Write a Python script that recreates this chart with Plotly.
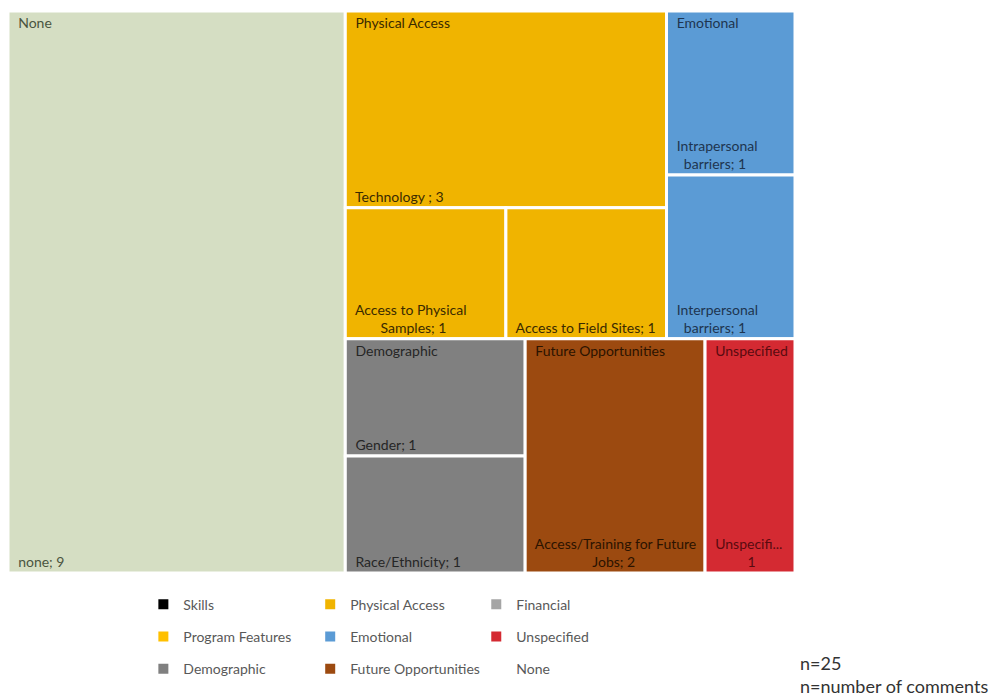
import plotly.graph_objects as go

# ---------------- data ----------------
parent_names = ["None", "Physical Access", "Emotional", "Demographic",
                "Future Opportunities", "Unspecified"]
parent_colors = ["#D5DEC3", "#F0B400", "#5B9BD5", "#808080", "#9C4A10", "#D42A32"]
parent_text_colors = ["#4A5540", "#3A2A00", "#1E3550", "#262626", "#2B1300", "#5A0A10"]

child_labels = ["none", "Technology ", "Access to Physical<br>Samples",
                "Access to Field Sites", "Intrapersonal<br>barriers",
                "Interpersonal<br>barriers", "Gender", "Race/Ethnicity",
                "Access/Training for Future<br>Jobs", "Unspecifi..."]
child_parents = ["None", "Physical Access", "Physical Access", "Physical Access",
                 "Emotional", "Emotional", "Demographic", "Demographic",
                 "Future Opportunities", "Unspecified"]
child_values = [9, 3, 1, 1, 1, 1, 1, 1, 2, 1]
child_separators = ["; ", "; ", "; ", "; ", "; ", "; ", "; ", "; ", "; ", "<br>"]

legend_cols = [["Skills", "Program Features", "Demographic"],
               ["Physical Access", "Emotional", "Future Opportunities"],
               ["Financial", "Unspecified", "None"]]
legend_colors = {"Skills": "#000000", "Program Features": "#FFC000",
                 "Demographic": "#808080", "Physical Access": "#F0B400",
                 "Emotional": "#5B9BD5", "Future Opportunities": "#9C4A10",
                 "Financial": "#A5A5A5", "Unspecified": "#D42A32",
                 "None": "rgba(0,0,0,0)"}

n_total = 25
footnote = ["n=%d" % n_total, "n=number of comments"]

FONT = "Lato"
FS = 14
NB = "\u00a0"


def centered(text):
    """Indent continuation lines so each wrapped line is roughly centred."""
    lines = text.split("<br>")
    out = [NB * 2 + lines[0]]
    for ln in lines[1:]:
        pad = max(0, round((len(lines[0]) - len(ln)) * 6.2 / 2 / 3.7))
        out.append(NB * (2 + pad) + ln)
    return "<br>".join(out)


# ---------------- build hierarchy ----------------
pcolor = dict(zip(parent_names, parent_colors))
ptext = dict(zip(parent_names, parent_text_colors))

ids = ["root"] + ["P:" + p for p in parent_names]
labels = [""] + parent_names
parents = [""] + ["root"] * len(parent_names)
parent_sums = [sum(v for v, pp in zip(child_values, child_parents) if pp == p)
               for p in parent_names]
values = [sum(child_values)] + parent_sums
colors = ["#FFFFFF"] + parent_colors
tcolors = ["#000000"] + parent_text_colors
bottom_text = [""] * (1 + len(parent_names))
top_text = [""] * (1 + len(parent_names))

seen = set()
for i, (lbl, par, val, sep) in enumerate(zip(child_labels, child_parents,
                                              child_values, child_separators)):
    ids.append("C%d" % i)
    labels.append(lbl.replace("<br>", " "))
    parents.append("P:" + par)
    values.append(val)
    colors.append(pcolor[par])
    tcolors.append(ptext[par])
    bottom_text.append(centered(lbl + sep + str(val)))
    if par not in seen:
        top_text.append(NB * 2 + par)
        seen.add(par)
    else:
        top_text.append("")

common = dict(ids=ids, labels=labels, parents=parents, values=values,
              branchvalues="total", sort=True,
              tiling=dict(packing="squarify", squarifyratio=1.2, pad=0),
              pathbar=dict(visible=False),
              domain=dict(x=[0, 1], y=[0, 1]),
              texttemplate="%{text}")

fig = go.Figure()
fig.add_trace(go.Treemap(
    **common,
    text=bottom_text,
    textposition="bottom left",
    textfont=dict(family=FONT, size=FS, color=tcolors),
    marker=dict(colors=colors, line=dict(color="#FFFFFF", width=3),
                pad=dict(t=0, l=0, r=0, b=0)),
    hoverinfo="label+value",
))
fig.add_trace(go.Treemap(
    **common,
    text=top_text,
    textposition="top left",
    textfont=dict(family=FONT, size=FS, color=tcolors),
    marker=dict(colors=["rgba(0,0,0,0)"] * len(ids), line=dict(width=0),
                pad=dict(t=0, l=0, r=0, b=0)),
    hoverinfo="skip",
))

# legend entries (three columns = three legends)
legend_x = [0.172, 0.384, 0.595]
for ci, col in enumerate(legend_cols):
    lg = "legend" if ci == 0 else "legend%d" % (ci + 1)
    for name in col:
        fig.add_trace(go.Scatter(
            x=[None], y=[None], mode="markers", name=name,
            marker=dict(symbol="square", size=10, color=legend_colors[name]),
            legend=lg, legendgroup=name, showlegend=True, hoverinfo="skip"))
    fig.update_layout({lg: dict(x=legend_x[ci], y=-0.028, xanchor="left", yanchor="top",
                                orientation="v", tracegroupgap=11,
                                bgcolor="rgba(0,0,0,0)",
                                font=dict(family=FONT, size=FS, color="#595959"))})

fig.add_annotation(text="<br>".join(footnote), xref="paper", yref="paper",
                   x=1.004, y=-0.137, xanchor="left", yanchor="top", align="left",
                   showarrow=False, font=dict(family=FONT, size=18, color="#333333"))

fig.update_layout(
    width=1000, height=697,
    margin=dict(l=8, r=205, t=11, b=124),
    paper_bgcolor="#FFFFFF", plot_bgcolor="#FFFFFF",
    xaxis=dict(visible=False), yaxis=dict(visible=False),
    font=dict(family=FONT),
    showlegend=True,
)

fig.write_html("out.html", config={"displayModeBar": False},
               post_script="document.body.style.margin='0px';")
